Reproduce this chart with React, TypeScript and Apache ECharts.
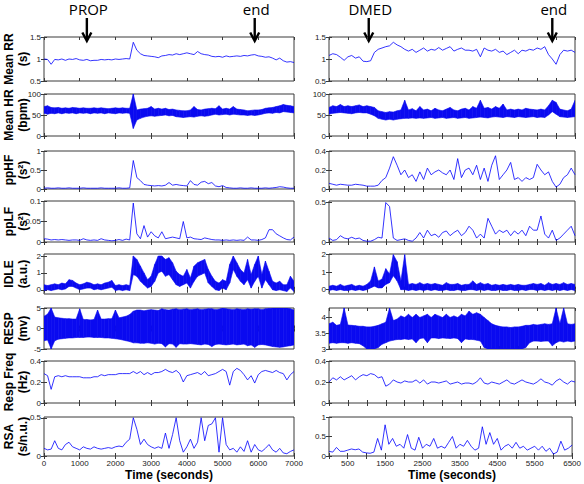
import React, { useEffect, useRef } from "react";
import * as echarts from "echarts";

const STEP = 100;

// Left column: PROP session, 0..7000 s
const L_RR = [1.0,0.99,0.88,0.99,0.98,1.0,0.97,1.0,0.99,1.01,
  0.98,0.97,0.99,0.96,0.97,0.97,0.99,0.98,0.99,0.98,
  1.0,0.99,1.0,1.01,1.0,1.38,1.2,1.12,1.08,1.07,
  1.06,1.05,1.03,1.07,1.08,1.1,1.09,1.12,1.1,1.12,
  1.14,1.12,1.1,1.17,1.12,1.1,1.09,1.06,1.05,1.06,
  1.04,1.07,1.05,1.06,1.07,1.06,1.08,1.07,1.09,1.1,
  1.07,1.06,1.04,1.05,1.02,0.98,1.02,0.96,0.93,0.94,
  0.92];
const L_HR_LO = [54,52,54,53,55,53,55,54,55,53,
  55,54,55,53,55,54,55,53,55,54,
  53,55,54,55,54,18,38,42,45,47,
  48,47,48,49,50,48,49,46,45,44,
  45,46,45,47,48,47,48,50,52,50,
  51,52,50,52,51,50,50,49,50,49,
  50,52,54,55,54,56,55,58,57,56,
  55];
const L_HR_HI = [70,72,68,67,68,66,67,66,68,67,
  66,67,66,66,67,66,67,66,65,66,
  67,66,67,66,66,100,62,64,65,66,
  70,64,66,64,66,63,64,62,61,60,
  60,62,70,63,62,64,65,66,65,72,
  64,66,64,70,64,63,62,60,61,62,
  62,63,66,67,68,70,72,75,73,72,
  70];
const L_PPHF = [0.02,0.03,0.02,0.02,0.03,0.02,0.02,0.03,0.02,0.02,
  0.02,0.03,0.02,0.02,0.02,0.02,0.03,0.02,0.02,0.02,
  0.02,0.03,0.02,0.02,0.03,0.75,0.3,0.22,0.12,0.1,
  0.09,0.08,0.09,0.08,0.1,0.17,0.1,0.12,0.1,0.09,
  0.08,0.22,0.12,0.1,0.18,0.2,0.14,0.17,0.08,0.06,
  0.09,0.04,0.03,0.02,0.02,0.03,0.02,0.02,0.03,0.02,
  0.02,0.02,0.03,0.02,0.03,0.04,0.06,0.05,0.03,0.02,
  0.02];
const L_PPLF = [0.008,0.007,0.005,0.006,0.005,0.006,0.005,0.004,0.005,0.005,
  0.004,0.008,0.005,0.004,0.005,0.004,0.008,0.005,0.004,0.003,
  0.004,0.006,0.004,0.007,0.005,0.095,0.02,0.008,0.04,0.012,
  0.025,0.015,0.01,0.025,0.008,0.01,0.012,0.01,0.008,0.05,
  0.01,0.012,0.008,0.007,0.006,0.01,0.008,0.006,0.005,0.005,
  0.004,0.005,0.004,0.005,0.004,0.005,0.004,0.012,0.005,0.005,
  0.004,0.006,0.01,0.03,0.03,0.02,0.015,0.01,0.006,0.005,
  0.012];
const L_IDLE_LO = [-0.05,0.0,-0.05,0.0,0.05,0.0,0.05,0.2,0.2,0.1,
  0.0,0.05,0.1,0.1,0.0,0.05,0.0,0.05,0.1,0.15,
  -0.05,0.0,-0.05,0.0,-0.05,0.9,0.8,0.5,0.3,0.1,
  0.2,0.5,1.0,1.1,0.8,0.9,0.6,0.3,0.2,0.3,
  0.4,0.1,0.5,0.8,0.9,1.0,0.4,0.2,0.0,-0.05,
  0.1,0.0,0.4,1.2,0.8,0.5,0.3,0.6,0.1,0.5,
  0.8,0.1,0.6,0.3,0.0,-0.05,0.0,-0.05,-0.1,0.1,
  -0.1];
const L_IDLE_HI = [0.3,0.25,0.3,0.35,0.3,0.4,0.35,0.6,0.55,0.4,
  0.3,0.35,0.45,0.4,0.3,0.35,0.3,0.4,0.45,0.55,
  0.25,0.3,0.25,0.3,0.25,2.0,1.8,1.4,1.0,0.6,
  0.8,1.5,2.0,2.0,1.8,1.9,1.6,1.1,0.9,0.8,
  1.2,0.7,1.4,1.6,1.7,1.8,1.2,0.8,0.5,0.4,
  0.6,0.5,1.5,2.0,1.6,1.2,1.0,1.8,0.9,1.5,
  2.0,0.9,1.7,1.1,0.5,0.4,0.5,0.3,0.3,0.8,
  0.5];
const L_RESP_LO = [-3,-2.8,-5,-3,-2.6,-2.5,-2.4,-2.3,-2.3,-2.2,
  -2.2,-2.2,-2.1,-2.1,-2.2,-2.2,-2.2,-2.3,-2.3,-2.4,
  -2.5,-2.6,-2.8,-3,-3.2,-3.5,-3.5,-3.6,-3.6,-3.5,
  -3.6,-3.8,-3.6,-3.7,-4.5,-3.7,-3.8,-4.6,-3.7,-3.8,
  -3.8,-3.7,-3.8,-3.9,-4.0,-3.8,-3.9,-4.4,-3.9,-3.8,
  -3.9,-4.0,-3.9,-3.8,-4.0,-3.9,-3.8,-4.2,-4.0,-4.6,
  -4.0,-3.9,-4.0,-4.2,-4.4,-4.5,-4.6,-4.5,-4.3,-4.2,
  -4.0];
const L_RESP_HI = [3,3.5,5,2.8,2.6,2.5,2.4,2.4,2.3,2.3,
  4.8,2.2,2.2,2.1,2.2,4.5,2.3,2.3,2.4,2.4,
  4.5,2.6,2.8,3,3.4,4.2,4.5,4.5,4.3,4.5,
  4.6,4.5,4.4,4.8,4.6,4.5,4.7,4.8,4.6,4.7,
  4.8,4.6,4.7,4.8,4.6,4.7,4.8,4.8,4.6,4.7,
  5,4.8,4.7,4.6,4.8,4.7,4.6,4.8,4.7,4.8,
  4.8,4.6,4.8,4.9,5,5,5,5,5,4.8,
  4.5];
const L_RF = [0.28,0.26,0.13,0.25,0.26,0.25,0.26,0.25,0.25,0.25,
  0.25,0.24,0.24,0.24,0.25,0.25,0.27,0.26,0.27,0.27,
  0.27,0.28,0.28,0.28,0.28,0.3,0.28,0.3,0.27,0.29,
  0.27,0.29,0.29,0.3,0.32,0.3,0.29,0.31,0.28,0.2,
  0.26,0.27,0.28,0.29,0.27,0.3,0.26,0.27,0.28,0.3,
  0.32,0.3,0.17,0.3,0.33,0.31,0.27,0.22,0.26,0.19,
  0.27,0.3,0.31,0.3,0.29,0.31,0.29,0.28,0.22,0.27,
  0.3];
const L_RSA = [0.1,0.08,0.09,0.2,0.1,0.08,0.15,0.18,0.12,0.1,
  0.08,0.12,0.1,0.09,0.12,0.1,0.09,0.1,0.11,0.1,
  0.12,0.13,0.12,0.18,0.22,0.5,0.35,0.15,0.22,0.15,
  0.12,0.1,0.12,0.1,0.3,0.1,0.28,0.5,0.2,0.05,
  0.12,0.22,0.1,0.18,0.5,0.2,0.4,0.42,0.5,0.05,
  0.5,0.15,0.08,0.1,0.05,0.12,0.06,0.2,0.05,0.15,
  0.08,0.06,0.1,0.15,0.08,0.05,0.1,0.04,0.03,0.06,
  0.08];

// Right column: DMED session, 0..6500 s
const R_RR = [1.08,1.12,1.1,1.04,0.97,1.05,1.08,1.02,1.05,0.95,
  0.94,0.96,1.15,1.22,1.25,1.28,1.3,1.38,1.32,1.28,
  1.22,1.18,1.22,1.15,1.2,1.25,1.18,1.22,1.2,1.26,
  1.2,1.24,1.28,1.18,1.22,1.25,1.2,1.2,1.18,1.22,
  1.05,1.25,1.2,1.18,1.22,1.15,1.18,1.1,1.15,1.2,
  1.12,1.2,1.18,1.22,1.2,1.25,1.22,1.28,1.1,1.0,
  0.88,1.1,1.2,1.18,1.2,1.15];
const R_HR_LO = [52,54,55,56,55,54,53,55,56,55,
  55,52,48,42,40,38,40,38,40,41,
  42,42,43,42,43,42,43,44,42,43,
  44,42,43,44,42,43,44,42,43,44,
  45,44,43,45,46,45,44,46,45,44,
  46,45,44,45,46,44,45,44,50,58,
  52,46,45,44,45,46];
const R_HR_HI = [68,72,70,75,70,72,70,72,74,70,
  72,70,68,60,58,56,58,57,60,62,
  85,62,65,60,70,62,64,60,66,62,
  60,64,68,62,60,64,66,62,70,66,
  85,66,68,64,70,66,76,62,64,62,
  64,62,66,64,63,62,64,62,72,85,
  80,64,62,60,64,85];
const R_PPHF = [0.06,0.05,0.04,0.05,0.045,0.04,0.04,0.05,0.045,0.04,
  0.03,0.03,0.03,0.04,0.09,0.12,0.22,0.34,0.25,0.15,
  0.2,0.12,0.15,0.08,0.18,0.1,0.22,0.15,0.18,0.2,
  0.17,0.15,0.2,0.1,0.32,0.12,0.2,0.22,0.15,0.25,
  0.1,0.22,0.08,0.25,0.35,0.1,0.15,0.2,0.28,0.1,
  0.12,0.08,0.12,0.1,0.12,0.26,0.2,0.15,0.18,0.08,
  0.02,0.05,0.12,0.15,0.22,0.15];
const R_PPLF = [0.05,0.02,0.03,0.08,0.05,0.04,0.06,0.04,0.05,0.02,
  0.01,0.01,0.03,0.06,0.05,0.5,0.45,0.05,0.02,0.03,
  0.04,0.02,0.01,0.05,0.12,0.05,0.15,0.08,0.1,0.06,
  0.12,0.14,0.08,0.12,0.15,0.08,0.12,0.2,0.15,0.05,
  0.1,0.05,0.3,0.2,0.1,0.15,0.12,0.15,0.08,0.14,
  0.1,0.15,0.08,0.2,0.15,0.15,0.33,0.1,0.05,0.15,
  0.02,0.05,0.1,0.15,0.2,0.08];
const R_IDLE_LO = [-0.05,0,-0.05,0,-0.05,-0.05,0,-0.05,0,-0.05,
  0,0.1,0.2,0.1,0.1,0.3,0.4,0.8,0.5,0,
  0,-0.05,0,-0.05,0,-0.05,0,-0.05,0,-0.05,
  -0.05,0,-0.05,-0.05,0,-0.05,-0.05,0,0,-0.05,
  0,-0.05,0,-0.05,-0.05,0,-0.05,-0.05,0,-0.05,
  -0.05,0,-0.05,0,0,-0.05,0,-0.05,0,-0.05,
  0,-0.05,0,-0.05,0,-0.05];
const R_IDLE_HI = [0.2,0.25,0.2,0.3,0.2,0.25,0.3,0.2,0.25,0.2,
  0.3,0.5,1.3,0.5,0.6,1.2,0.9,2.0,1.6,0.5,
  2.0,0.3,0.35,0.3,0.4,0.3,0.35,0.3,0.35,0.3,
  0.25,0.4,0.3,0.3,0.35,0.25,0.3,0.3,0.5,0.3,
  0.4,0.3,0.35,0.25,0.3,0.25,0.3,0.25,0.3,0.25,
  0.3,0.25,0.25,0.3,0.35,0.3,0.35,0.25,0.4,0.3,
  0.35,0.3,0.4,0.3,0.35,0.3];
const R_RESP_LO = [3.18,3.2,3.18,3.2,3.2,3.18,3.2,3.18,3.17,3.1,
  3.0,3.0,3.0,3.05,3.15,3.2,3.25,3.28,3.3,3.3,
  3.32,3.3,3.32,3.2,3.33,3.35,3.2,3.35,3.35,3.33,
  3.35,3.34,3.33,3.35,3.33,3.2,3.32,3.3,3.3,3.28,
  3.25,3.05,3.0,3.0,3.0,3.0,3.0,3.0,3.0,3.0,
  3.0,3.0,3.05,3.2,3.25,3.25,3.24,3.25,3.25,3.1,
  3.2,3.25,3.22,3.25,3.23,3.25];
const R_RESP_HI = [3.8,3.85,3.75,3.78,4.3,3.76,3.75,3.74,3.72,3.72,
  3.7,3.7,3.72,3.75,3.8,3.85,4.3,3.9,3.95,4.05,
  4.0,4.1,4.0,4.1,4.0,4.05,4.1,4.0,4.1,4.05,
  4.0,4.1,4.0,4.05,4.0,4.1,4.05,4.2,4.1,4.15,
  4.1,4.0,3.9,3.8,3.75,3.72,3.7,3.7,3.68,3.7,
  3.7,3.72,3.75,3.75,3.78,3.76,3.78,3.8,3.78,3.8,
  4.3,3.8,4.3,3.8,3.78,3.8];
const R_RF = [0.2,0.24,0.22,0.25,0.22,0.24,0.26,0.22,0.25,0.27,
  0.26,0.28,0.27,0.24,0.25,0.16,0.18,0.22,0.2,0.19,
  0.21,0.2,0.2,0.22,0.19,0.22,0.18,0.2,0.2,0.19,
  0.2,0.21,0.18,0.19,0.2,0.18,0.19,0.19,0.18,0.2,
  0.24,0.19,0.18,0.2,0.19,0.18,0.2,0.22,0.19,0.18,
  0.2,0.22,0.2,0.19,0.18,0.2,0.23,0.2,0.19,0.17,
  0.21,0.23,0.2,0.18,0.21,0.2];
const R_RSA = [0.12,0.1,0.22,0.12,0.12,0.15,0.18,0.16,0.18,0.1,
  0.08,0.07,0.1,0.45,0.15,0.8,0.3,0.45,0.25,0.3,
  0.2,0.55,0.2,0.15,0.48,0.2,0.3,0.25,0.45,0.2,
  0.25,0.2,0.35,0.5,0.2,0.3,0.25,0.4,0.25,0.15,
  0.2,0.75,0.3,0.6,0.3,0.45,0.15,0.25,0.3,0.2,
  0.35,0.2,0.25,0.15,0.2,0.25,0.15,0.25,0.12,0.2,
  0.05,0.1,0.38,0.15,0.2,0.28];

// axis names, ranges and tick labels
const ROW_NAMES = ["Mean RR\n(s)", "Mean HR\n(bpm)", "ppHF\n(s²)", "ppLF\n(s²)", "IDLE\n(a.u.)", "RESP\n(mv)", "Resp Freq\n(Hz)", "RSA\n(s/n.u.)"];
const L_RANGES = [[0.5, 1.5], [0, 100], [0, 1], [0, 0.1], [-0.25, 2.12], [-5, 5], [0, 0.4], [0, 0.51]];
const R_RANGES = [[0.5, 1.5], [0, 100], [0, 0.4], [0, 0.52], [-0.25, 2.04], [3, 4.3], [0, 0.4], [0, 1]];
const L_TICKS = [[0.5, 1, 1.5], [0, 50, 100], [0, 0.5, 1], [0, 0.05, 0.1], [0, 1, 2], [-5, 0, 5], [0, 0.2, 0.4], [0, 0.5]];
const R_TICKS = [[0.5, 1, 1.5], [0, 50, 100], [0, 0.2, 0.4], [0, 0.5], [0, 1, 2], [3, 3.5, 4], [0, 0.2, 0.4], [0, 0.5, 1]];
const L_TIME = { min: 0, max: 7000, interval: 1000 };
const R_TIME = { min: 0, max: 6500, interval: 500 };
const L_EVENTS: [string, number][] = [["PROP", 1200], ["end", 5900]];
const R_EVENTS: [string, number][] = [["DMED", 1050], ["end", 5900]];
const X_TITLE = "Time (seconds)";

// ---------- layout ----------
const ROW_TOPS = [37, 94, 151, 201, 254, 308, 361, 417];
const ROW_BOTTOMS = [81, 136, 189, 242, 294, 349, 403, 456];
const COLS = [{ left: 44, width: 250 }, { left: 329, width: 246 }];
const BLUE = "#0000ff";
const BAND = "#0a0af0";
const FRAME = "#3a3a3a";
const TICK_FONT = "Liberation Sans, Arial, sans-serif";

type Sig = { values?: number[]; lo?: number[]; hi?: number[] };
const LEFT_SIGS: Sig[] = [
  { values: L_RR }, { lo: L_HR_LO, hi: L_HR_HI }, { values: L_PPHF }, { values: L_PPLF },
  { lo: L_IDLE_LO, hi: L_IDLE_HI }, { lo: L_RESP_LO, hi: L_RESP_HI }, { values: L_RF }, { values: L_RSA },
];
const RIGHT_SIGS: Sig[] = [
  { values: R_RR }, { lo: R_HR_LO, hi: R_HR_HI }, { values: R_PPHF }, { values: R_PPLF },
  { lo: R_IDLE_LO, hi: R_IDLE_HI }, { lo: R_RESP_LO, hi: R_RESP_HI }, { values: R_RF }, { values: R_RSA },
];

const pts = (vals: number[]) => vals.map((v, i) => [i * STEP, v]);

// band segments: [t0, lo0, hi0, t1, lo1, hi1]
function bandSegments(lo: number[], hi: number[]): number[][] {
  const out: number[][] = [];
  for (let i = 0; i < lo.length - 1; i++) {
    out.push([i * STEP, lo[i], hi[i], (i + 1) * STEP, lo[i + 1], hi[i + 1]]);
  }
  return out;
}

function renderBand(_params: any, api: any) {
  const a = api.coord([api.value(0), api.value(1)]);
  const b = api.coord([api.value(3), api.value(4)]);
  const c = api.coord([api.value(3), api.value(5)]);
  const d = api.coord([api.value(0), api.value(2)]);
  return {
    type: "polygon",
    shape: { points: [a, b, c, d] },
    style: { fill: BAND, stroke: BAND, lineWidth: 0.6 },
  };
}

function buildOption() {
  const grid: any[] = [];
  const xAxis: any[] = [];
  const yAxis: any[] = [];
  const series: any[] = [];
  for (let c = 0; c < 2; c++) {
    const time = c === 0 ? L_TIME : R_TIME;
    const sigs = c === 0 ? LEFT_SIGS : RIGHT_SIGS;
    const ranges = c === 0 ? L_RANGES : R_RANGES;
    const ticks = c === 0 ? L_TICKS : R_TICKS;
    for (let r = 0; r < 8; r++) {
      const p = c * 8 + r;
      grid.push({
        left: COLS[c].left, width: COLS[c].width, top: ROW_TOPS[r], height: ROW_BOTTOMS[r] - ROW_TOPS[r],
        show: true, borderColor: FRAME, borderWidth: 1, backgroundColor: "#fff", containLabel: false,
      });
      const xBase = {
        type: "value", gridIndex: p, min: time.min, max: time.max, interval: time.interval,
        axisLine: { show: false }, splitLine: { show: false },
        axisTick: { show: true, inside: true, length: 3, lineStyle: { color: FRAME, width: 1 } },
      };
      xAxis.push({
        ...xBase, position: "bottom",
        axisLabel: {
          show: r === 7, fontSize: 8, color: "#222", margin: 3, fontFamily: TICK_FONT,
          formatter: (v: number) => (c === 0 ? String(v) : Math.round(v / 500) % 2 === 1 ? String(v) : ""),
        },
      });
      xAxis.push({ ...xBase, position: "top", axisLabel: { show: false } });
      const yBase = {
        type: "value", gridIndex: p, min: ranges[r][0], max: ranges[r][1],
        axisLine: { show: false }, splitLine: { show: false },
        axisTick: { show: true, inside: true, length: 3, customValues: ticks[r], lineStyle: { color: FRAME, width: 1 } },
      };
      yAxis.push({
        ...yBase, position: "left",
        axisLabel: { show: true, customValues: ticks[r], fontSize: 8, color: "#222", margin: 3, fontFamily: TICK_FONT },
      });
      yAxis.push({ ...yBase, position: "right", axisLabel: { show: false } });
      const s = sigs[r];
      if (s.values) {
        series.push({
          type: "line", xAxisIndex: 2 * p, yAxisIndex: 2 * p, showSymbol: false, symbol: "none",
          clip: true, silent: true, data: pts(s.values), lineStyle: { color: BLUE, width: 0.8 },
        });
      } else {
        series.push({
          type: "custom", coordinateSystem: "cartesian2d", xAxisIndex: 2 * p, yAxisIndex: 2 * p,
          clip: true, silent: true, renderItem: renderBand,
          encode: { x: [0, 3], y: [1, 2, 4, 5] },
          data: bandSegments(s.lo as number[], s.hi as number[]),
        });
      }
    }
  }
  return { animation: false, backgroundColor: "#fff", grid, xAxis, yAxis, series };
}

export default function App() {
  const ref = useRef<HTMLDivElement>(null);
  useEffect(() => {
    if (!ref.current) return;
    const chart = echarts.init(ref.current, undefined, { renderer: "svg" });
    chart.setOption(buildOption() as any);

    const graphic: any[] = [];
    // y-axis names (left column only)
    for (let r = 0; r < 8; r++) {
      graphic.push({
        type: "text", x: 16, y: (ROW_TOPS[r] + ROW_BOTTOMS[r]) / 2, rotation: Math.PI / 2,
        style: {
          text: ROW_NAMES[r], font: "bold 12px 'Liberation Sans', Arial, sans-serif", fill: "#000",
          align: "center", verticalAlign: "middle", textAlign: "center", textVerticalAlign: "middle", lineHeight: 14,
        },
      });
    }
    // time axis titles
    for (let c = 0; c < 2; c++) {
      graphic.push({
        type: "text", x: COLS[c].left + COLS[c].width / 2, y: 475,
        style: {
          text: X_TITLE, font: "bold 12px 'Liberation Sans', Arial, sans-serif", fill: "#000",
          align: "center", verticalAlign: "middle", textAlign: "center", textVerticalAlign: "middle",
        },
      });
    }
    // event arrows
    const addEvents = (events: [string, number][], xAxisIndex: number) => {
      events.forEach(([label, t]) => {
        const x = chart.convertToPixel({ xAxisIndex } as any, t) as number;
        graphic.push({
          type: "text", x: x + 1.5, y: 9,
          style: {
            text: label, font: "15px 'Open Sans', 'Noto Sans', sans-serif", fill: "#000",
            align: "center", verticalAlign: "middle", textAlign: "center", textVerticalAlign: "middle",
          },
        });
        graphic.push({ type: "line", shape: { x1: x, y1: 18, x2: x, y2: 40 }, style: { stroke: "#000", lineWidth: 2.4 } });
        graphic.push({
          type: "polyline", shape: { points: [[x - 4.5, 32.5], [x, 41], [x + 4.5, 32.5]] },
          style: { stroke: "#000", lineWidth: 2.4, fill: "none", lineJoin: "miter" },
        });
      });
    };
    addEvents(L_EVENTS, 0);
    addEvents(R_EVENTS, 16);
    chart.setOption({ graphic } as any);
    return () => chart.dispose();
  }, []);
  return <div ref={ref} style={{ position: "absolute", left: 0, top: 0, width: 584, height: 484 }} />;
}
